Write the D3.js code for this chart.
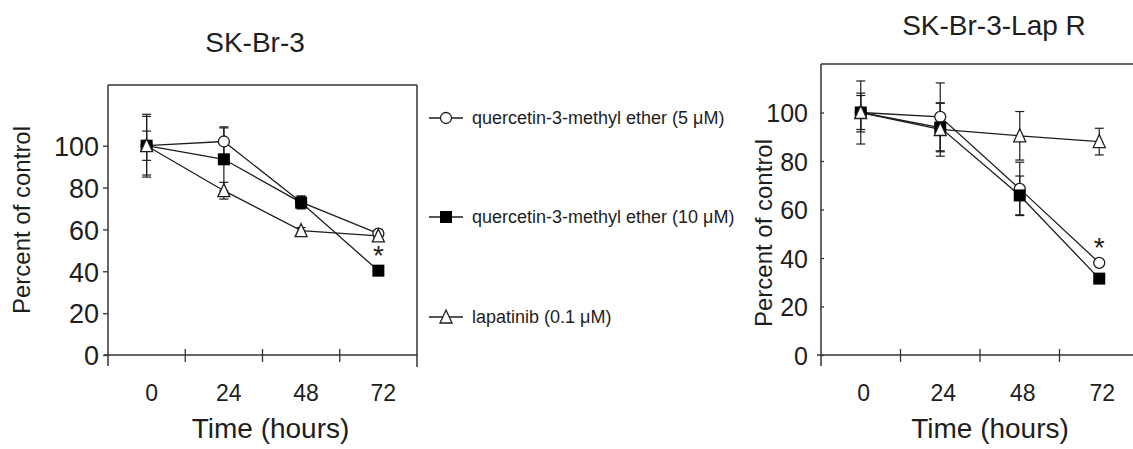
<!doctype html>
<html>
<head>
<meta charset="utf-8">
<title>SK-Br-3</title>
<script src="https://cdn.jsdelivr.net/npm/d3@7/dist/d3.min.js"></script>
<style>
  body { margin: 0; background: #fff; }
  svg text { font-family: "Liberation Sans", Arial, sans-serif; fill: #1e1e1e; }
</style>
</head>
<body>
<svg width="1133" height="449"></svg>
<script>
// time points (hours)
var times = [0, 24, 48, 72];
var yTicks = [0, 20, 40, 60, 80, 100];

// SK-Br-3 (left panel)
var q5Left = [100, 102, 73, 58];
var q5LeftErr = [15, 7, 3, 2];
var q10Left = [100, 93.5, 72.8, 40.3];
var q10LeftErr = [7, 15, 3, 1];
var lapLeft = [100, 78.5, 59.4, 56.9];
var lapLeftErr = [14, 4, 1.5, 1];

// SK-Br-3-Lap R (right panel)
var q5Right = [100, 98.2, 68.5, 38];
var q5RightErr = [13, 14, 11, 1];
var q10Right = [100, 93.8, 65.8, 31.5];
var q10RightErr = [7, 10, 8, 1];
var lapRight = [100, 93, 90.4, 88];
var lapRightErr = [8, 11, 10, 5.5];

var legendNames = ["quercetin-3-methyl ether (5 \u03bcM)",
                   "quercetin-3-methyl ether (10 \u03bcM)",
                   "lapatinib (0.1 \u03bcM)"];
var markers = ["circle", "square", "triangle"];

var svg = d3.select("svg");
var ink = "#1e1e1e";

function marker(sel, kind) {
    if (kind == "circle") {
        sel.append("circle").attr("r", 5.5).attr("fill", "#fff")
            .attr("stroke", ink).attr("stroke-width", 1.3);
    } else if (kind == "square") {
        sel.append("rect").attr("x", -6).attr("y", -6).attr("width", 12).attr("height", 12)
            .attr("fill", "#000");
    } else {
        sel.append("path").attr("d", "M0,-7L6,6L-6,6Z").attr("fill", "#fff")
            .attr("stroke", ink).attr("stroke-width", 1.3);
    }
}

function panel(cfg) {
    var g = svg.append("g");
    var x = d3.scaleBand().domain(times).range(cfg.xr);
    var y = d3.scaleLinear().domain([0, cfg.ymax]).range([355, cfg.top]);

    // frame
    g.append("line").attr("x1", cfg.xr[0]).attr("x2", cfg.xr[1]).attr("y1", cfg.top).attr("y2", cfg.top)
        .attr("stroke", "#333").attr("stroke-width", 1.5);
    if (cfg.rightEdge) {
        g.append("line").attr("x1", cfg.xr[1]).attr("x2", cfg.xr[1]).attr("y1", cfg.top).attr("y2", 367)
            .attr("stroke", "#333").attr("stroke-width", 1.5);
    }

    // y axis
    var ya = g.append("g").attr("transform", "translate(" + cfg.xr[0] + ",0)")
        .call(d3.axisLeft(y).tickValues(yTicks).tickSize(5).tickSizeOuter(0).tickPadding(cfg.yPad));
    ya.select(".domain").remove();
    ya.selectAll("line").attr("stroke", "#333").attr("stroke-width", 1.3).attr("x2", cfg.yTickIn);
    ya.selectAll("text").style("font-size", cfg.yFont + "px").attr("fill", ink).attr("dy", "0.36em");
    g.append("line").attr("x1", cfg.xr[0]).attr("x2", cfg.xr[0]).attr("y1", cfg.top).attr("y2", 366)
        .attr("stroke", "#333").attr("stroke-width", 1.5);

    // x axis
    g.append("line").attr("x1", cfg.xr[0] - 4).attr("x2", cfg.xr[1]).attr("y1", 355).attr("y2", 355)
        .attr("stroke", "#333").attr("stroke-width", 1.5);
    var xa = g.append("g").attr("transform", "translate(0,355)")
        .call(d3.axisBottom(x).tickSize(0).tickPadding(30));
    xa.select(".domain").remove();
    xa.selectAll("text").style("font-size", "23px").attr("fill", ink).attr("dx", cfg.xdx);
    g.selectAll(".xtick").data(times.slice(1)).enter().append("line")
        .attr("x1", function (d) { return x(d); }).attr("x2", function (d) { return x(d); })
        .attr("y1", 349).attr("y2", 362).attr("stroke", "#333").attr("stroke-width", 1.3);

    // titles
    g.append("text").attr("x", cfg.titleX).attr("y", cfg.titleY).attr("text-anchor", "middle")
        .style("font-size", "28px").text(cfg.title);
    g.append("text").attr("x", (cfg.xr[0] + cfg.xr[1]) / 2 + cfg.timeDx).attr("y", 438)
        .attr("text-anchor", "middle").style("font-size", "28px").text("Time (hours)");
    g.append("text").attr("transform", "translate(" + cfg.ylabX + "," + cfg.ylabY + ") rotate(-90)")
        .attr("text-anchor", "middle").style("font-size", "24px").text("Percent of control");

    var cx = function (i) { return x(times[i]) + x.bandwidth() / 2; };
    var line = d3.line().x(function (d, i) { return cx(i); }).y(function (d) { return y(d); });

    // error bars
    cfg.series.forEach(function (s) {
        s.values.forEach(function (v, i) {
            var e = s.err[i], xx = cx(i);
            if (e <= 0) return;
            g.append("line").attr("x1", xx).attr("x2", xx).attr("y1", y(v - e)).attr("y2", y(v + e))
                .attr("stroke", ink).attr("stroke-width", 1.2);
            [v - e, v + e].forEach(function (t) {
                g.append("line").attr("x1", xx - 4.5).attr("x2", xx + 4.5).attr("y1", y(t)).attr("y2", y(t))
                    .attr("stroke", ink).attr("stroke-width", 1.2);
            });
        });
    });

    // lines
    cfg.series.forEach(function (s) {
        g.append("path").datum(s.values).attr("d", line).attr("fill", "none")
            .attr("stroke", ink).attr("stroke-width", 1.3);
    });

    // markers
    cfg.series.forEach(function (s) {
        s.values.forEach(function (v, i) {
            var m = g.append("g").attr("transform", "translate(" + cx(i) + "," + y(v) + ")");
            marker(m, s.marker);
        });
    });

    // significance asterisk above 72 h
    g.append("text").attr("x", cx(3)).attr("y", y(cfg.starAt)).attr("text-anchor", "middle")
        .style("font-size", "28px").text("*");
}

panel({
    xr: [108, 417], top: 85, ymax: 129, rightEdge: true, yFont: 27, yPad: 4, yTickIn: -5, xdx: 5,
    title: "SK-Br-3", titleX: 255, titleY: 52, timeDx: 8, ylabX: 30, ylabY: 220, starAt: 43,
    series: [
        { values: q5Left, err: q5LeftErr, marker: "circle" },
        { values: q10Left, err: q10LeftErr, marker: "square" },
        { values: lapLeft, err: lapLeftErr, marker: "triangle" }
    ]
});

panel({
    xr: [821, 1139], top: 64, ymax: 120, rightEdge: false, yFont: 25, yPad: 8, yTickIn: 3, xdx: 3,
    title: "SK-Br-3-Lap R", titleX: 994, titleY: 35, timeDx: 10, ylabX: 772, ylabY: 233, starAt: 40.5,
    series: [
        { values: q5Right, err: q5RightErr, marker: "circle" },
        { values: q10Right, err: q10RightErr, marker: "square" },
        { values: lapRight, err: lapRightErr, marker: "triangle" }
    ]
});

// legend between panels
var legendY = [118, 217, 317];
var lg = svg.append("g").selectAll("g").data(legendNames).enter().append("g")
    .attr("transform", function (d, i) { return "translate(446," + legendY[i] + ")"; });
lg.append("line").attr("x1", -17).attr("x2", 17).attr("stroke", ink).attr("stroke-width", 1.3);
lg.each(function (d, i) { marker(d3.select(this), markers[i]); });
lg.append("text").attr("x", 26).attr("dy", "0.35em").style("font-size", "18px").text(function (d) { return d; });
</script>
</body>
</html>
